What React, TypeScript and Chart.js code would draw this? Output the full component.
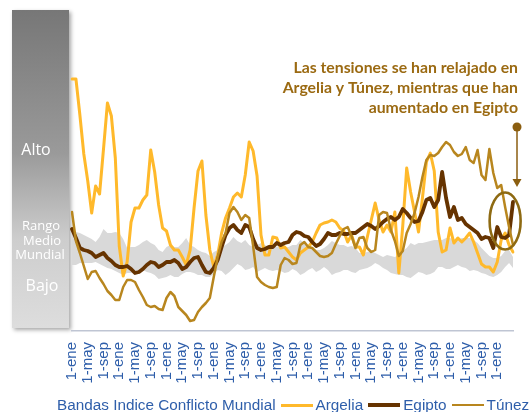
import React, { useEffect, useRef } from 'react';
import { Chart, registerables } from 'chart.js';

Chart.register(...registerables);

const MONTHS = ['ene', 'feb', 'mar', 'abr', 'may', 'jun', 'jul', 'ago', 'sep', 'oct', 'nov', 'dic'];
const N_POINTS = 113;
const LAST_LABELED = 108;
const CATEGORIES = Array.from({ length: N_POINTS }, (_, i) => `1-${MONTHS[i % 12]}`);

const ARGELIA = [
  25.2, 25.2, 21.6, 17.7, 15.0, 11.8, 14.5, 13.7, 18.2, 22.8, 21.5, 17.3, 8.5, 5.5, 6.9, 10.9,
  12.3, 12.3, 13.1, 13.6, 18.1, 15.9, 12.6, 10.3, 10.0, 8.6, 8.1, 8.1, 7.4, 6.6, 8.1, 12.3,
  16.0, 17.0, 11.6, 8.1, 6.4, 7.6, 9.8, 11.3, 12.3, 13.4, 13.8, 13.4, 15.6, 18.9, 18.0, 15.5,
  9.6, 7.6, 7.6, 9.4, 9.3, 8.3, 8.4, 7.9, 7.4, 7.1, 7.8, 8.1, 8.4, 8.9, 9.8, 10.6,
  10.8, 10.9, 11.1, 10.9, 10.3, 10.0, 8.9, 9.6, 8.4, 8.4, 7.6, 9.4, 11.1, 12.8, 11.1, 9.9,
  10.6, 9.9, 11.9, 5.8, 10.5, 16.3, 13.9, 11.9, 9.9, 13.3, 16.9, 17.8, 16.0, 9.9, 7.9, 8.1,
  10.3, 8.8, 9.3, 8.9, 9.3, 9.8, 8.9, 7.8, 6.7, 6.4, 6.4, 5.9, 6.9, 9.1, 9.8, 8.6, 7.9,
];

const EGIPTO = [
  10.2, 9.3, 8.3, 8.1, 8.0, 7.8, 7.4, 7.6, 7.8, 7.3, 7.0, 6.6, 6.4, 6.4, 6.5, 6.2,
  5.8, 5.9, 6.2, 6.6, 6.9, 6.8, 6.4, 6.6, 6.9, 6.9, 7.1, 6.8, 6.2, 6.4, 6.9, 7.3,
  7.4, 6.6, 5.9, 5.8, 6.3, 7.1, 8.4, 9.6, 10.3, 10.6, 10.1, 9.8, 10.6, 10.4, 9.2, 8.3,
  8.1, 8.2, 8.4, 8.4, 8.8, 8.6, 8.8, 8.9, 9.6, 9.9, 9.8, 9.5, 9.4, 8.9, 8.5, 8.7,
  9.2, 9.8, 9.6, 9.6, 9.8, 9.7, 9.7, 9.8, 9.8, 10.1, 10.4, 10.7, 10.5, 10.2, 10.5, 10.9,
  11.2, 11.4, 11.1, 11.4, 12.2, 11.8, 11.3, 10.9, 11.0, 11.9, 13.1, 13.3, 12.4, 13.1, 15.9, 13.3,
  11.4, 12.4, 11.1, 11.3, 10.7, 10.4, 10.1, 9.8, 9.2, 9.4, 9.3, 8.3, 10.4, 9.4, 9.3, 9.6, 12.9,
];

const TUNEZ = [
  11.9, 9.0, 7.8, 6.5, 5.2, 5.9, 6.0, 5.3, 4.7, 4.0, 3.6, 3.1, 3.1, 4.4, 5.1, 5.1,
  4.9, 4.1, 3.4, 2.6, 2.4, 2.5, 2.2, 2.1, 3.3, 3.9, 3.5, 2.4, 2.0, 1.6, 1.0, 1.1,
  1.9, 2.4, 2.8, 3.3, 5.4, 7.4, 8.9, 9.8, 11.8, 12.4, 11.9, 11.1, 11.6, 11.3, 8.5, 5.4,
  4.9, 4.6, 4.4, 4.3, 4.4, 6.6, 7.3, 7.1, 6.7, 6.8, 8.6, 8.9, 8.4, 8.3, 7.9, 7.5,
  7.4, 7.5, 7.8, 8.7, 9.5, 10.2, 10.4, 9.5, 8.3, 9.3, 9.4, 8.3, 7.9, 8.1, 11.6, 11.9,
  11.8, 10.1, 9.0, 7.5, 8.0, 9.8, 10.7, 11.8, 13.4, 15.4, 17.1, 17.6, 17.5, 17.8, 18.4, 18.9,
  18.6, 17.9, 17.5, 17.7, 18.4, 17.1, 16.8, 18.1, 15.6, 15.1, 18.2, 15.8, 14.3, 14.6, 12.4, 10.4, 8.6,
];

const BAND_HIGH = [
  9.9, 9.9, 9.8, 9.6, 9.4, 9.2, 8.9, 9.4, 10.2, 9.8, 9.8, 9.9, 9.8, 9.2, 8.3, 8.4,
  8.4, 8.6, 8.9, 9.1, 8.8, 8.6, 8.1, 7.9, 8.4, 8.6, 8.4, 8.4, 8.8, 9.3, 8.6, 8.4,
  8.1, 7.9, 7.8, 7.5, 7.9, 8.1, 8.4, 8.6, 8.9, 9.4, 9.0, 8.8, 9.1, 8.6, 8.4, 8.6,
  8.8, 8.6, 8.4, 8.6, 8.4, 8.6, 8.4, 8.4, 8.6, 8.6, 9.1, 8.8, 8.4, 8.4, 8.1, 8.1,
  8.3, 8.6, 9.0, 8.8, 8.6, 8.6, 8.4, 8.5, 8.3, 7.8, 7.8, 7.9, 8.0, 7.8, 7.6, 7.4,
  7.6, 7.5, 7.4, 7.6, 8.0, 8.3, 8.8, 8.6, 8.8, 8.8, 8.9, 9.0, 9.1, 9.1, 9.1, 9.3,
  9.3, 9.1, 9.1, 9.3, 9.3, 9.3, 9.1, 8.8, 8.3, 7.9, 7.5, 7.3, 7.3, 7.5, 8.0, 8.1, 7.4,
];

const BAND_LOW = [
  6.6, 6.6, 6.8, 6.8, 6.8, 6.8, 6.9, 6.7, 6.5, 6.3, 6.2, 6.0, 5.8, 5.6, 5.8, 5.8,
  5.9, 6.1, 6.1, 5.9, 5.8, 5.6, 5.2, 5.3, 5.4, 5.6, 5.4, 5.4, 5.7, 5.9, 5.9, 5.8,
  5.6, 5.6, 5.4, 5.4, 5.7, 6.1, 6.0, 5.6, 5.9, 6.3, 6.7, 6.5, 6.1, 6.2, 6.4, 5.9,
  6.1, 6.3, 6.1, 6.0, 6.1, 6.0, 5.8, 5.9, 6.2, 6.0, 5.6, 5.8, 6.1, 6.3, 5.9, 6.1,
  6.4, 6.1, 5.6, 5.8, 5.9, 6.1, 6.1, 5.9, 5.8, 6.1, 6.2, 6.3, 6.5, 6.8, 6.6, 6.3,
  6.1, 5.8, 5.7, 5.6, 5.6, 5.4, 5.3, 5.6, 5.9, 5.8, 5.6, 5.7, 5.9, 6.4, 6.4, 6.2,
  6.2, 6.4, 6.6, 6.4, 6.3, 6.0, 6.1, 6.0, 5.8, 5.7, 5.5, 5.4, 5.6, 5.9, 6.4, 6.8, 6.3,
];

const BAND_LABEL = 'Bandas Indice Conflicto Mundial';
const SERIES_NAMES = ['Argelia', 'Egipto', 'Túnez'];
const SERIES_COLORS = ['#FFB92B', '#663300', '#B8861E'];
const SERIES_WIDTHS = [3, 3.8, 2.5];
const SERIES_DATA = [ARGELIA, EGIPTO, TUNEZ];

const SCALE_LEVELS = ['Alto', 'Rango', 'Medio', 'Mundial', 'Bajo'];
const NOTE_LINES = [
  'Las tensiones se han relajado en',
  'Argelia y Túnez, mientras que han',
  'aumentado en Egipto',
];

const BLUE = '#2E5EAA';
const GOLD = '#9B6A12';

const decorPlugin = {
  id: 'decor',
  beforeDraw(chart: any) {
    const ctx = chart.ctx;
    const bottom = chart.chartArea.bottom;
    ctx.save();
    const x = 12, y = 10, w = 57, h = bottom - 3 - y;
    const g = ctx.createLinearGradient(0, y, 0, y + h);
    g.addColorStop(0, '#777777');
    g.addColorStop(0.45, '#9a9a9a');
    g.addColorStop(0.72, '#cdcdcd');
    g.addColorStop(1, '#dddddd');
    ctx.shadowColor = 'rgba(0,0,0,0.35)';
    ctx.shadowBlur = 4;
    ctx.shadowOffsetX = 2;
    ctx.shadowOffsetY = 2;
    ctx.fillStyle = g;
    ctx.fillRect(x, y, w, h);
    ctx.restore();

    ctx.save();
    ctx.fillStyle = '#ffffff';
    ctx.textAlign = 'center';
    ctx.textBaseline = 'middle';
    ctx.font = '16px "Open Sans"';
    ctx.fillText(SCALE_LEVELS[0], 36, 150);
    ctx.font = '13px "Open Sans"';
    ctx.fillText(SCALE_LEVELS[1], 41, 226);
    ctx.fillText(SCALE_LEVELS[2], 42, 241);
    ctx.fillText(SCALE_LEVELS[3], 40, 255);
    ctx.font = '16px "Open Sans"';
    ctx.fillText(SCALE_LEVELS[4], 42, 286);
    ctx.restore();
  },
  afterDatasetsDraw(chart: any) {
    const ctx = chart.ctx;
    const xs = chart.scales.x;
    const ys = chart.scales.y;
    const right = chart.chartArea.right;
    ctx.save();
    ctx.fillStyle = GOLD;
    ctx.textAlign = 'right';
    ctx.textBaseline = 'middle';
    ctx.font = 'bold 15.8px Lato';
    NOTE_LINES.forEach((t, i) => ctx.fillText(t, right + 5, 68 + i * 20));
    const ax = right + 4;
    ctx.strokeStyle = '#8B5E10';
    ctx.fillStyle = '#8B5E10';
    ctx.lineWidth = 1.5;
    ctx.beginPath();
    ctx.moveTo(ax, 127);
    ctx.lineTo(ax, 180);
    ctx.stroke();
    ctx.beginPath();
    ctx.arc(ax, 127, 4.5, 0, Math.PI * 2);
    ctx.fill();
    ctx.beginPath();
    ctx.moveTo(ax - 4.5, 179);
    ctx.lineTo(ax + 4.5, 179);
    ctx.lineTo(ax, 187);
    ctx.closePath();
    ctx.fill();
    const cx = xs.getPixelForValue(110);
    const cy = ys.getPixelForValue(11);
    ctx.strokeStyle = '#8E6A12';
    ctx.lineWidth = 2.6;
    ctx.beginPath();
    ctx.ellipse(cx, cy, 15.5, 28.5, 0, 0, Math.PI * 2);
    ctx.stroke();
    ctx.restore();
  },
};

export default function App() {
  const canvasRef = useRef<HTMLCanvasElement | null>(null);

  useEffect(() => {
    if (!canvasRef.current) return;
    Chart.defaults.font.family = "'Liberation Sans', Arial, sans-serif";
    const lineSets = SERIES_NAMES.map((name, i) => ({
      label: name,
      data: SERIES_DATA[i],
      borderColor: SERIES_COLORS[i],
      backgroundColor: SERIES_COLORS[i],
      borderWidth: SERIES_WIDTHS[i],
      fill: false,
      order: 3 - i,
    }));
    const chart = new Chart(canvasRef.current, {
      type: 'line',
      data: {
        labels: CATEGORIES,
        datasets: [
          ...lineSets,
          {
            label: BAND_LABEL + ' (min)',
            data: BAND_LOW,
            borderColor: 'transparent',
            borderWidth: 0,
            fill: false,
            order: 4,
          },
          {
            label: BAND_LABEL,
            data: BAND_HIGH,
            borderColor: 'transparent',
            borderWidth: 0,
            backgroundColor: '#D9D9D9',
            fill: '-1',
            order: 5,
          },
        ],
      },
      options: {
        animation: false,
        responsive: false,
        maintainAspectRatio: false,
        layout: { padding: { left: 72, right: 18, top: 10, bottom: 0 } },
        plugins: { legend: { display: false }, tooltip: { enabled: false } },
        elements: {
          point: { radius: 0 },
          line: { tension: 0, borderJoinStyle: 'round', borderCapStyle: 'round' },
        },
        scales: {
          x: {
            type: 'category',
            offset: false,
            grid: { display: false, drawTicks: true, tickLength: 8 },
            border: { display: true, color: '#BFC5D3', width: 1.5 },
            ticks: {
              autoSkip: false,
              minRotation: 90,
              maxRotation: 90,
              color: BLUE,
              font: { size: 15 },
              padding: 3,
              callback: function (this: any, v: any, i: number) {
                return i % 4 === 0 && i <= LAST_LABELED ? this.getLabelForValue(v) : null;
              },
            },
            afterFit: (s: any) => {
              s.height = 81;
            },
          },
          y: { display: false, min: 0, max: 32.1 },
        },
      },
      plugins: [decorPlugin],
    } as any);
    return () => chart.destroy();
  }, []);

  return (
    <div style={{ position: 'fixed', left: 0, top: 0, width: 531, height: 412, background: '#fff' }}>
      <canvas ref={canvasRef} width={531} height={412} style={{ display: 'block' }} />
      <div
        style={{
          position: 'absolute',
          left: 57,
          top: 396,
          display: 'flex',
          alignItems: 'center',
          whiteSpace: 'nowrap',
          font: '15.3px "Liberation Sans", Arial, sans-serif',
          lineHeight: '18px',
          color: BLUE,
        }}
      >
        <span>{BAND_LABEL}</span>
        {SERIES_NAMES.map((n, i) => (
          <React.Fragment key={n}>
            <span
              style={{
                display: 'inline-block',
                width: 32,
                height: SERIES_WIDTHS[i],
                background: SERIES_COLORS[i],
                marginLeft: 5,
                marginRight: 3,
              }}
            />
            <span>{n}</span>
          </React.Fragment>
        ))}
      </div>
    </div>
  );
}
